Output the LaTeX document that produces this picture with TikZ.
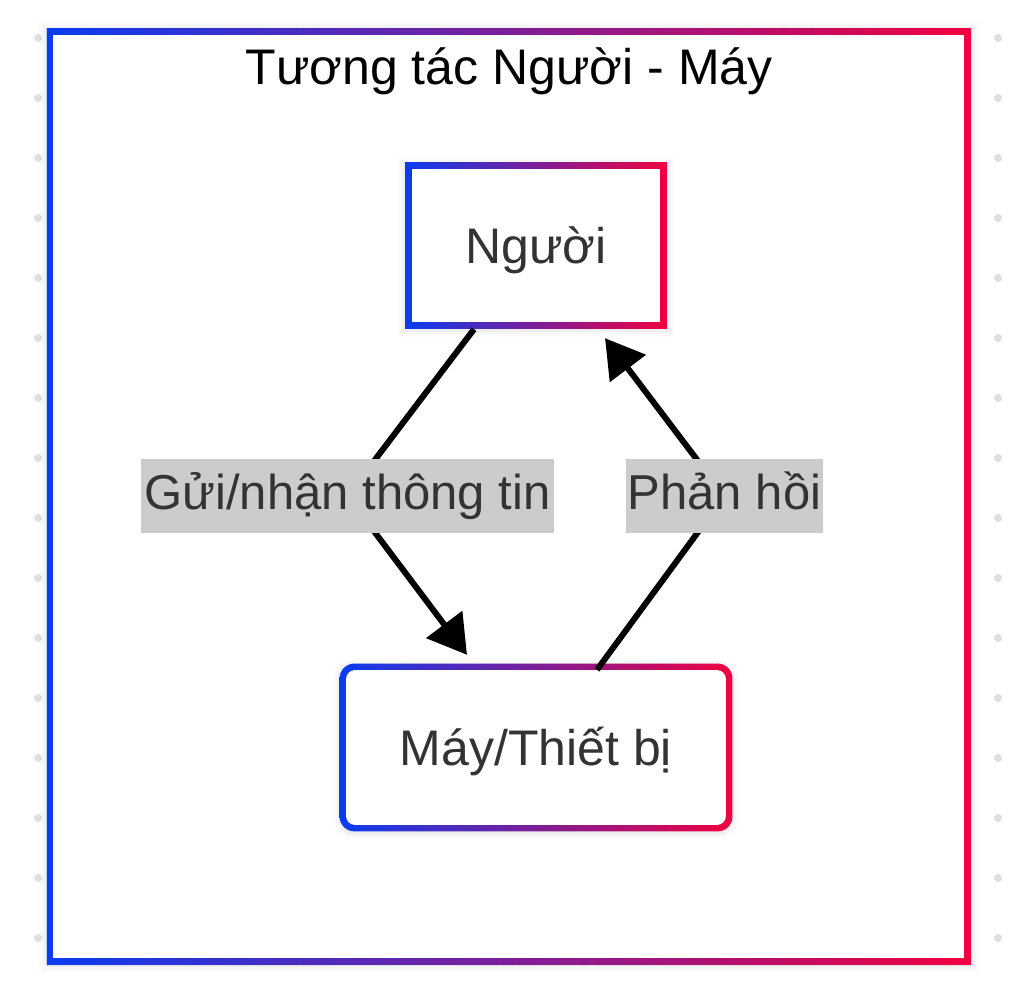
\documentclass[tikz,border=0pt]{standalone}
\usepackage{fontspec}
\setmainfont{Liberation Sans}
\usetikzlibrary{arrows.meta,calc}
\definecolor{gblue}{HTML}{0A3CF0}
\definecolor{gred}{HTML}{F00040}
\definecolor{txt}{HTML}{333333}
\definecolor{lblbg}{HTML}{CCCCCC}
\definecolor{dotc}{HTML}{E0E0E2}
\pgfdeclarelayer{bg}
\pgfdeclarelayer{edgelayer}
\pgfsetlayers{bg,edgelayer,main}
\begin{document}
\begin{tikzpicture}[x=1pt,y=1pt,
  boxtext/.style={inner sep=0pt, text=txt, font=\fontsize{50}{60}\selectfont,
    text height=36pt, text depth=0pt},
  lbl/.style={inner sep=0pt, fill=lblbg, text=txt, font=\fontsize{49}{58}\selectfont,
    minimum height=74pt, text height=36pt, text depth=9pt},
  edge/.style={line width=6pt, black, -{Triangle[length=38pt,width=44pt]}},
  soft/.style={black, opacity=#1}
]
\useasboundingbox (0,0) rectangle (1014,990);

% nodes
\node[boxtext, minimum width=255pt, minimum height=160pt] (nguoi) at (536,744.5) {Người};
\node[boxtext, minimum width=386pt, minimum height=161pt] (may) at (536,242.5) {Máy/Thiết bị};
\node[inner sep=0pt, font=\fontsize{50}{60}\selectfont, anchor=base] (title) at (509,905) {Tương tác Người - Máy};
\node[lbl, minimum width=413pt] (l1) at (347.5,494) {Gửi/nhận thông tin};
\node[lbl, minimum width=197pt] (l2) at (724.5,494) {Phản hồi};

% edges
\begin{pgfonlayer}{edgelayer}
\draw[edge] ($(nguoi.south)+(-62,-3.5)$) -- (l1.center) -- ($(may.north)+(-69,12)$);
\draw[edge] ($(may.north)+(61,-3)$) -- (l2.center) -- ($(nguoi.south)+(69,-12.5)$);
\end{pgfonlayer}

% background: dots, frame, node borders
\begin{pgfonlayer}{bg}
\fill[white] (0,0) rectangle (1014,990);
\foreach \k in {0,...,15} {
  \fill[dotc] (38,952-60*\k) circle (4);
  \fill[dotc] (998,952-60*\k) circle (4);
}
% frame shadow
\foreach \w/\o in {22/0.015,16/0.02,11/0.03,8/0.04} {
  \draw[soft=\o, line width=\w pt] (50,28) rectangle (967.5,957.5);
}
\shade[left color=gblue, right color=gred] (46.75,25.75) rectangle (970.75,961.75);
\fill[white] (53.25,32.25) rectangle (964.25,955.25);

% Nguoi box
\foreach \w/\o in {20/0.015,14/0.02,10/0.03} {
  \draw[soft=\o, line width=\w pt] ($(nguoi.south west)+(0,-1.5)$) rectangle ($(nguoi.north east)+(0,-1.5)$);
}
\shade[left color=gblue, right color=gred] ($(nguoi.south west)+(-3.25,-3.25)$) rectangle ($(nguoi.north east)+(3.25,3.25)$);
\fill[white] ($(nguoi.south west)+(3.25,3.25)$) rectangle ($(nguoi.north east)+(-3.25,-3.25)$);

% May box
\foreach \w/\o in {20/0.015,14/0.02,10/0.03} {
  \draw[soft=\o, line width=\w pt, rounded corners=12pt] ($(may.south west)+(0,-1.5)$) rectangle ($(may.north east)+(0,-1.5)$);
}
\shade[left color=gblue, right color=gred, rounded corners=15pt] ($(may.south west)+(-3.25,-3.25)$) rectangle ($(may.north east)+(3.25,3.25)$);
\fill[white, rounded corners=9pt] ($(may.south west)+(3.25,3.25)$) rectangle ($(may.north east)+(-3.25,-3.25)$);
\end{pgfonlayer}
\end{tikzpicture}
\end{document}
